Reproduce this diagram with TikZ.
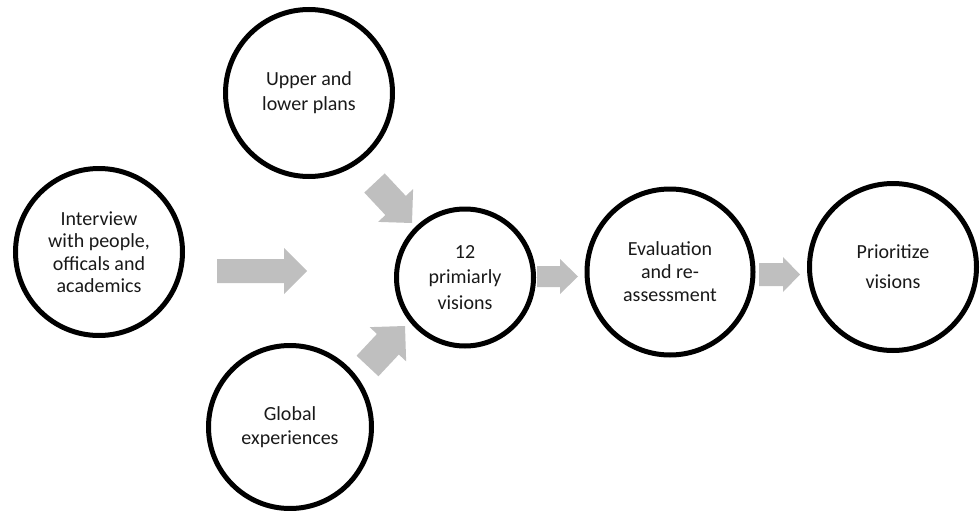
\documentclass[tikz,border=0pt]{standalone}
\usepackage{fontspec}
\setmainfont{Carlito}
\usetikzlibrary{calc}
\definecolor{arrowgray}{RGB}{191,191,191}
\tikzset{
  stage/.style={circle, draw=black, line width=5pt, minimum size=#1,
    inner sep=0pt, align=center, text=black!90},
  blockfill/.style={fill=arrowgray, draw=none},
}
% #1 = arrow name (uses #1-tail, #1-tip), #2 body half width, #3 head half width, #4 head length
\newcommand\blockarrow[4]{%
  \coordinate (#1-base) at ($(#1-tip)!#4pt!(#1-tail)$);
  \fill[blockfill]
    ($(#1-tail)!#2pt!90:(#1-tip)$) -- ($(#1-base)!#2pt!90:(#1-tip)$) --
    ($(#1-base)!#3pt!90:(#1-tip)$) -- (#1-tip) --
    ($(#1-base)!#3pt!-90:(#1-tip)$) -- ($(#1-base)!#2pt!-90:(#1-tip)$) --
    ($(#1-tail)!#2pt!-90:(#1-tip)$) -- cycle;
}
\begin{document}
\begin{tikzpicture}[x=1pt,y=-1pt]
  \useasboundingbox (0,0) rectangle (980,511);
  \node[stage=167, font=\fontsize{20}{22.5}\selectfont] (interview) at (99,252)
    {Interview\\with people,\\officals and\\academics};
  \node[stage=167, font=\fontsize{20}{25}\selectfont] (plans) at (309,93)
    {Upper and\\lower plans};
  \node[stage=163, font=\fontsize{20}{23.5}\selectfont] (global) at (290,427)
    {Global\\experiences};
  \node[stage=137, font=\fontsize{20}{25.5}\selectfont] (visions) at (465,277.5)
    {12\\primiarly\\visions};
  \node[stage=166, font=\fontsize{20}{23}\selectfont] (eval) at (670,272)
    {Evaluation\\and re-\\assessment};
  \node[stage=167, font=\fontsize{20}{30}\selectfont] (prio) at (893,267)
    {Prioritize\\visions};

  \coordinate (a1-tail) at (217,271);   \coordinate (a1-tip) at (307,271);
  \coordinate (a2-tail) at (374.5,183); \coordinate (a2-tip) at (412,223);
  \coordinate (a3-tail) at (367.5,366); \coordinate (a3-tip) at (405,326);
  \coordinate (a4-tail) at (537,276.5); \coordinate (a4-tip) at (578,276.5);
  \coordinate (a5-tail) at (759,274.5); \coordinate (a5-tip) at (800,274.5);
  \blockarrow{a1}{12}{23}{23}
  \blockarrow{a2}{14}{24}{24}
  \blockarrow{a3}{15}{25}{25}
  \blockarrow{a4}{10.5}{17.5}{18}
  \blockarrow{a5}{11.5}{17.5}{17}
\end{tikzpicture}
\end{document}
